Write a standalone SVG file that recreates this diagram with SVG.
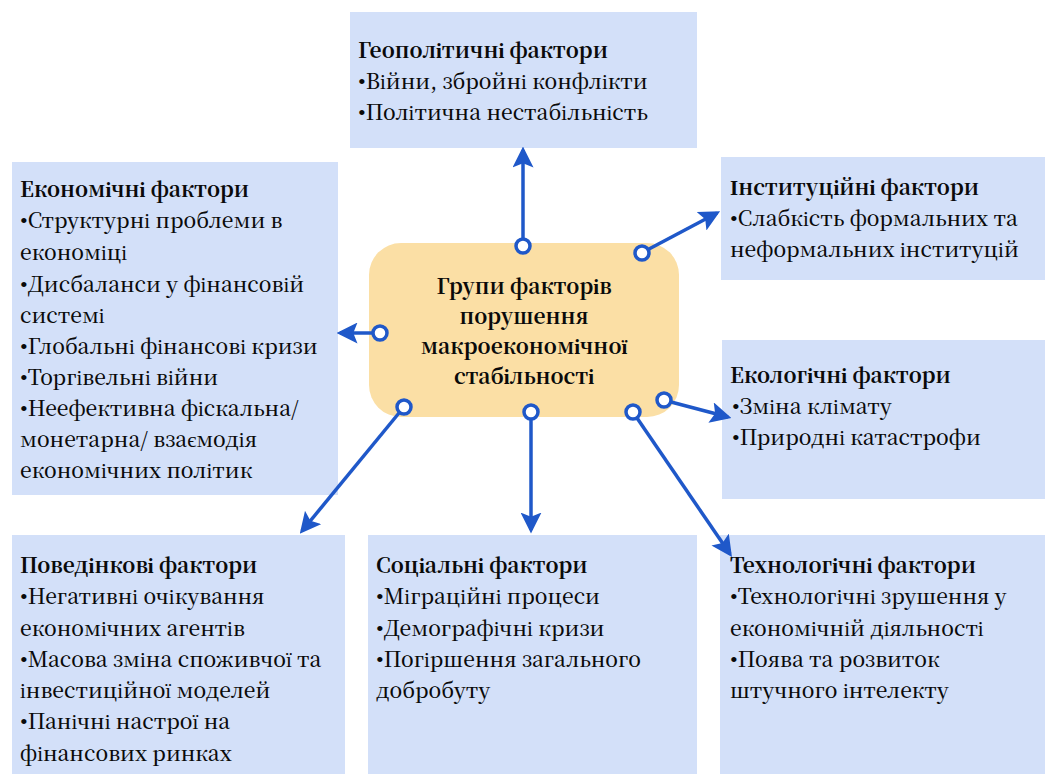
<svg xmlns="http://www.w3.org/2000/svg" width="1045" height="774" viewBox="0 0 1045 774">
<defs>
<style>
.box{fill:#D3E0F9;}
.t{font-family:'Noto Serif CJK SC','Liberation Serif',serif;font-size:21px;font-weight:500;fill:#0a0a0a;}
.b{font-weight:bold;}
.u{font-family:'Liberation Serif',serif;font-size:22px;}
.c{font-family:'Noto Serif CJK SC','Liberation Serif',serif;font-size:21px;font-weight:bold;fill:#0a0a0a;text-anchor:middle;}
.ln{stroke:#1F58C9;stroke-width:3.5;fill:none;}
.dot{stroke:#1F58C9;stroke-width:3.5;fill:#fff;}
</style>
<marker id="ah" markerWidth="6" markerHeight="6" refX="5" refY="3" orient="auto" markerUnits="strokeWidth">
<path d="M0,0 L6,3 L0,6 L1.2,3 Z" fill="#1F58C9"/>
</marker>
</defs>
<rect width="1045" height="774" fill="#fff"/>

<g id="center">
<rect x="369" y="243" width="310" height="174" rx="32" fill="#FBDFA5"/>
<text class="c" x="524" y="294">Групи факторів</text>
<text class="c" x="524" y="324">порушення</text>
<text class="c" x="524" y="354">макроекономічної</text>
<text class="c" x="524" y="384">стабільності</text>
</g>

<g id="geo">
<rect class="box" x="350" y="12" width="347" height="136"/>
<text class="t b" x="358" y="58">Геополітичні фактори</text>
<text class="t" x="358" y="89"><tspan class="u">•</tspan>Війни, збройні конфлікти</text>
<text class="t" x="358" y="120"><tspan class="u">•</tspan>Політична нестабільність</text>
</g>

<g id="econ">
<rect class="box" x="12" y="162" width="326" height="333"/>
<text class="t b" x="20" y="197">Економічні фактори</text>
<text class="t" x="20" y="228"><tspan class="u">•</tspan>Структурні проблеми в</text>
<text class="t" x="20" y="260">економіці</text>
<text class="t" x="20" y="292"><tspan class="u">•</tspan>Дисбаланси у фінансовій</text>
<text class="t" x="20" y="323">системі</text>
<text class="t" x="20" y="354"><tspan class="u">•</tspan>Глобальні фінансові кризи</text>
<text class="t" x="20" y="385"><tspan class="u">•</tspan>Торгівельні війни</text>
<text class="t" x="20" y="416"><tspan class="u">•</tspan>Неефективна фіскальна/</text>
<text class="t" x="20" y="447">монетарна/ взаємодія</text>
<text class="t" x="20" y="478">економічних політик</text>
</g>

<g id="inst">
<rect class="box" x="721" y="157" width="324" height="123"/>
<text class="t b" x="730" y="195">Інституційні фактори</text>
<text class="t" x="730" y="226"><tspan class="u">•</tspan>Слабкість формальних та</text>
<text class="t" x="730" y="257">неформальних інституцій</text>
</g>

<g id="eco">
<rect class="box" x="722" y="340" width="323" height="159"/>
<text class="t b" x="730" y="383">Екологічні фактори</text>
<text class="t" x="732" y="414"><tspan class="u">•</tspan>Зміна клімату</text>
<text class="t" x="732" y="445"><tspan class="u">•</tspan>Природні катастрофи</text>
</g>

<g id="behav">
<rect class="box" x="12" y="535" width="333" height="239"/>
<text class="t b" x="20" y="573">Поведінкові фактори</text>
<text class="t" x="20" y="604"><tspan class="u">•</tspan>Негативні очікування</text>
<text class="t" x="20" y="636">економічних агентів</text>
<text class="t" x="20" y="667"><tspan class="u">•</tspan>Масова зміна споживчої та</text>
<text class="t" x="20" y="698">інвестиційної моделей</text>
<text class="t" x="20" y="729"><tspan class="u">•</tspan>Панічні настрої на</text>
<text class="t" x="20" y="761">фінансових ринках</text>
</g>

<g id="social">
<rect class="box" x="368" y="535" width="329" height="239"/>
<text class="t b" x="376" y="573">Соціальні фактори</text>
<text class="t" x="376" y="604"><tspan class="u">•</tspan>Міграційні процеси</text>
<text class="t" x="376" y="636"><tspan class="u">•</tspan>Демографічні кризи</text>
<text class="t" x="376" y="667"><tspan class="u">•</tspan>Погіршення загального</text>
<text class="t" x="376" y="698">добробуту</text>
</g>

<g id="tech">
<rect class="box" x="720" y="535" width="325" height="239"/>
<text class="t b" x="730" y="573">Технологічні фактори</text>
<text class="t" x="730" y="604"><tspan class="u">•</tspan>Технологічні зрушення у</text>
<text class="t" x="730" y="636">економічній діяльності</text>
<text class="t" x="730" y="667"><tspan class="u">•</tspan>Поява та розвиток</text>
<text class="t" x="730" y="698">штучного інтелекту</text>
</g>

<g id="connectors">
<line class="ln" x1="523" y1="239" x2="523" y2="150" marker-end="url(#ah)"/>
<line class="ln" x1="649" y1="249" x2="717" y2="213" marker-end="url(#ah)"/>
<line class="ln" x1="373" y1="333" x2="340" y2="333" marker-end="url(#ah)"/>
<line class="ln" x1="671" y1="402" x2="728" y2="417" marker-end="url(#ah)"/>
<line class="ln" x1="637" y1="418" x2="730" y2="554" marker-end="url(#ah)"/>
<line class="ln" x1="531" y1="419" x2="531" y2="530" marker-end="url(#ah)"/>
<line class="ln" x1="399" y1="413" x2="302" y2="531" marker-end="url(#ah)"/>
<circle class="dot" cx="523" cy="246" r="7"/>
<circle class="dot" cx="642" cy="253" r="7"/>
<circle class="dot" cx="380" cy="333" r="7"/>
<circle class="dot" cx="664" cy="400" r="7"/>
<circle class="dot" cx="633" cy="412" r="7"/>
<circle class="dot" cx="531" cy="412" r="7"/>
<circle class="dot" cx="404" cy="407" r="7"/>
</g>
</svg>
